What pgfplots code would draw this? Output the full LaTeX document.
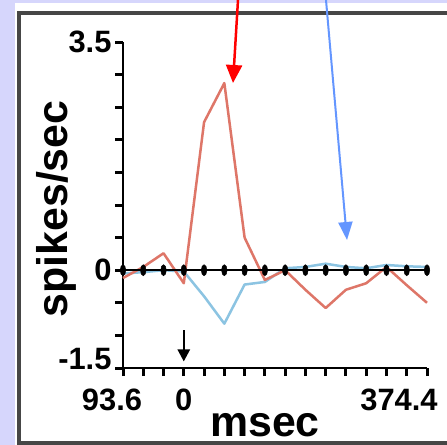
\documentclass[border=0pt]{standalone}
\usepackage{pgfplots}
\pgfplotsset{compat=1.18}
\usepackage{fontspec}
\setmainfont{Liberation Sans}
\usetikzlibrary{arrows.meta}
\definecolor{lav}{RGB}{214,214,252}
\definecolor{redl}{RGB}{222,118,104}
\definecolor{bluel}{RGB}{140,196,226}
\definecolor{framec}{RGB}{70,70,70}
\definecolor{arrblue}{RGB}{100,150,255}
\begin{document}
\begin{tikzpicture}
\useasboundingbox (0,0) rectangle (447bp,-445bp);
\fill[lav] (0,0) rectangle (447bp,-445bp);
\fill[white] (15bp,-3bp) rectangle (447bp,-445bp);
\draw[framec, line width=4bp] (19bp,-13bp) rectangle (480bp,-443bp);
\begin{axis}[
  at={(123bp,-368bp)}, anchor=south west,
  scale only axis, width=304bp, height=326bp,
  xmin=-93.6, xmax=374.4, ymin=-1.5, ymax=3.5,
  axis x line*=bottom, axis y line*=left,
  axis line style={line width=2.5bp, black},
  xtick={-93.6,0,374.4},
  xticklabels={\makebox[0pt]{93.6\hspace*{22bp}},0,\makebox[0pt]{374.4\hspace*{56bp}}},
  minor xtick={-62.4,-31.2,31.2,62.4,93.6,124.8,156,187.2,218.4,249.6,280.8,312,343.2},
  ytick={-1.5,0,3.5},
  yticklabels={\raisebox{18bp}{-1.5},0,3.5},
  minor ytick={-1,-0.5,0.5,1,1.5,2,2.5,3},
  tick align=outside,
  major tick length=8bp, minor tick length=8bp,
  tick style={line width=3bp, black},
  every major tick/.append style={line width=3bp},
  every minor tick/.append style={line width=3bp},
  ticklabel style={font=\fontsize{31}{31}\selectfont\bfseries},
  xticklabel style={yshift=-9bp},
  ylabel={spikes/sec},
  ylabel style={at={(axis description cs:-0.22,0.488)}, anchor=center, font=\fontsize{43}{43}\selectfont\bfseries},
  xlabel={\raisebox{0pt}[\height][0pt]{msec}},
  xlabel style={at={(axis description cs:0.467,-0.212)}, anchor=south, inner sep=0pt, font=\fontsize{43}{43}\selectfont\bfseries},
  clip=false,
]
\addplot[bluel, line width=2.5bp, line join=round] coordinates {
(-93.6,-0.05) (-62.4,-0.03) (-31.2,0.0) (0,-0.02) (31.2,-0.4) (62.4,-0.82)
(93.6,-0.22) (124.8,-0.18) (156,0.03) (187.2,0.05) (218.4,0.1) (249.6,0.05)
(280.8,0.03) (312,0.08) (343.2,0.06) (374.4,0.05)};
\addplot[redl, line width=2.5bp, line join=round] coordinates {
(-93.6,-0.12) (-62.4,0.05) (-31.2,0.26) (0,-0.2) (31.2,2.27) (62.4,2.87)
(93.6,0.5) (124.8,-0.15) (156,0.0) (187.2,-0.3) (218.4,-0.58) (249.6,-0.3)
(280.8,-0.2) (312,0.05) (343.2,-0.23) (374.4,-0.5)};
\addplot[black, line width=2.5bp, mark=*, mark size=5.5bp, mark options={xscale=0.5, fill=black, draw=black, line width=0.5bp}] coordinates {
(-93.6,0) (-62.4,0) (-31.2,0) (0,0) (31.2,0) (62.4,0) (93.6,0) (124.8,0) (156,0)
(187.2,0) (218.4,0) (249.6,0) (280.8,0) (312,0) (343.2,0) (374.4,0)};
\draw[black, line width=2.5bp, -{Triangle[length=12bp,width=12bp]}] (axis cs:0,-0.92) -- (axis cs:0,-1.4);
\end{axis}
\draw[red, line width=2.5bp, -{Triangle[length=18bp,width=16bp]}] (238bp,0bp) -- (233bp,-83bp);
\draw[arrblue, line width=2bp, -{Triangle[length=18bp,width=14bp]}] (326bp,0bp) -- (347bp,-240bp);
\end{tikzpicture}
\end{document}
